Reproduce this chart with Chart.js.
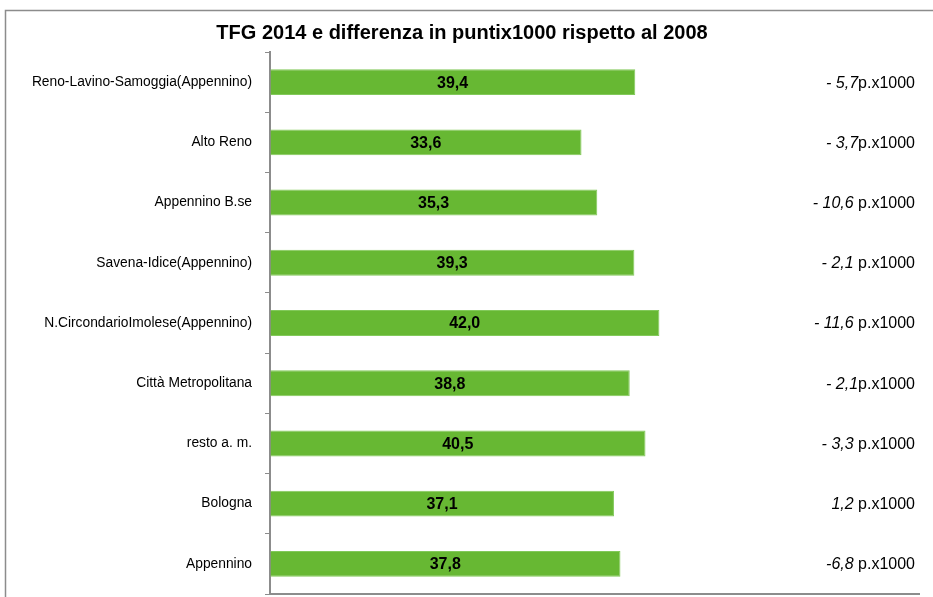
<!DOCTYPE html>
<html lang="it">
<head>
  <meta charset="UTF-8" />
  <title>TFG 2014</title>
  <script src="https://cdn.jsdelivr.net/npm/chart.js"></script>
  <style>
    body { margin: 0; background: #fff; overflow: hidden; }
    canvas { display: block; }
  </style>
</head>
<body>
  <canvas id="tfgChart" width="933" height="597"></canvas>
  <script>
const areas = ["Reno-Lavino-Samoggia(Appennino)", "Alto Reno", "Appennino B.se", "Savena-Idice(Appennino)",
  "N.CircondarioImolese(Appennino)", "Città Metropolitana", "resto a. m.", "Bologna", "Appennino"];
const tfg2014 = [39.4, 33.6, 35.3, 39.3, 42.0, 38.8, 40.5, 37.1, 37.8];
const diffLabels = ["- 5,7", "- 3,7", "- 10,6 ", "- 2,1 ", "- 11,6 ", "- 2,1", "- 3,3 ", "1,2 ", "-6,8 "];
const titleText = "TFG 2014 e differenza in puntix1000 rispetto al 2008";
const FONT = "'Liberation Sans', Arial, sans-serif";

// frame, title, bar values and right-hand notes
const extras = {
  id: "extras",
  beforeDraw(chart) {
    const ctx = chart.ctx;
    ctx.save();
    ctx.strokeStyle = "#8c8c8c";
    ctx.lineWidth = 1.5;
    ctx.strokeRect(5.5, 10.5, 1000, 700);
    ctx.fillStyle = "#000";
    ctx.font = "bold 20px " + FONT;
    ctx.textAlign = "center";
    ctx.textBaseline = "middle";
    ctx.fillText(titleText, 462, 33);
    ctx.restore();
  },
  afterDatasetsDraw(chart) {
    const ctx = chart.ctx;
    const meta = chart.getDatasetMeta(0);
    const x = chart.scales.x, y = chart.scales.y;
    ctx.save();
    ctx.textBaseline = "middle";
    meta.data.forEach((bar, i) => {
      ctx.fillStyle = "#000";
      ctx.font = "bold 16px " + FONT;
      ctx.textAlign = "center";
      const mid = (x.getPixelForValue(0) + bar.x) / 2;
      ctx.fillText(tfg2014[i].toFixed(1).replace(".", ","), mid, bar.y + 1);

      // right note: italic number + normal unit, right aligned
      const yy = y.getPixelForValue(i) + 1;
      ctx.textAlign = "left";
      ctx.font = "16px " + FONT;
      const unit = "p.x1000";
      const uw = ctx.measureText(unit).width;
      ctx.font = "italic 16px " + FONT;
      const nw = ctx.measureText(diffLabels[i]).width;
      const right = 915;
      ctx.fillText(diffLabels[i], right - uw - nw, yy);
      ctx.font = "16px " + FONT;
      ctx.fillText(unit, right - uw, yy);
    });
    ctx.restore();
  }
};

new Chart(document.getElementById("tfgChart"), {
  type: "bar",
  data: {
    labels: areas,
    datasets: [{
      data: tfg2014,
      backgroundColor: "#67b833",
      borderColor: "#82c95a",
      borderWidth: 1,
      categoryPercentage: 1,
      barPercentage: 0.43
    }]
  },
  options: {
    indexAxis: "y",
    responsive: false,
    animation: false,
    layout: { padding: { top: 52, right: 14, bottom: 3, left: 0 } },
    plugins: { legend: { display: false }, tooltip: { enabled: false } },
    scales: {
      x: {
        min: 0, max: 70,
        ticks: { display: false },
        grid: { drawOnChartArea: false, drawTicks: false },
        border: { color: "#8c8c8c", width: 2 },
        afterFit: s => { s.height = 0; s.paddingLeft = 0; s.paddingRight = 0; }
      },
      y: {
        ticks: { color: "#000", padding: 13, font: { family: FONT, size: 13.8 } },
        grid: { drawOnChartArea: false, drawTicks: true, tickLength: 5, color: "#8c8c8c", offset: true },
        border: { color: "#8c8c8c", width: 2 },
        afterFit: s => { s.width = 270; s.paddingTop = 0; s.paddingBottom = 0; }
      }
    }
  },
  plugins: [extras]
});
  </script>
</body>
</html>
